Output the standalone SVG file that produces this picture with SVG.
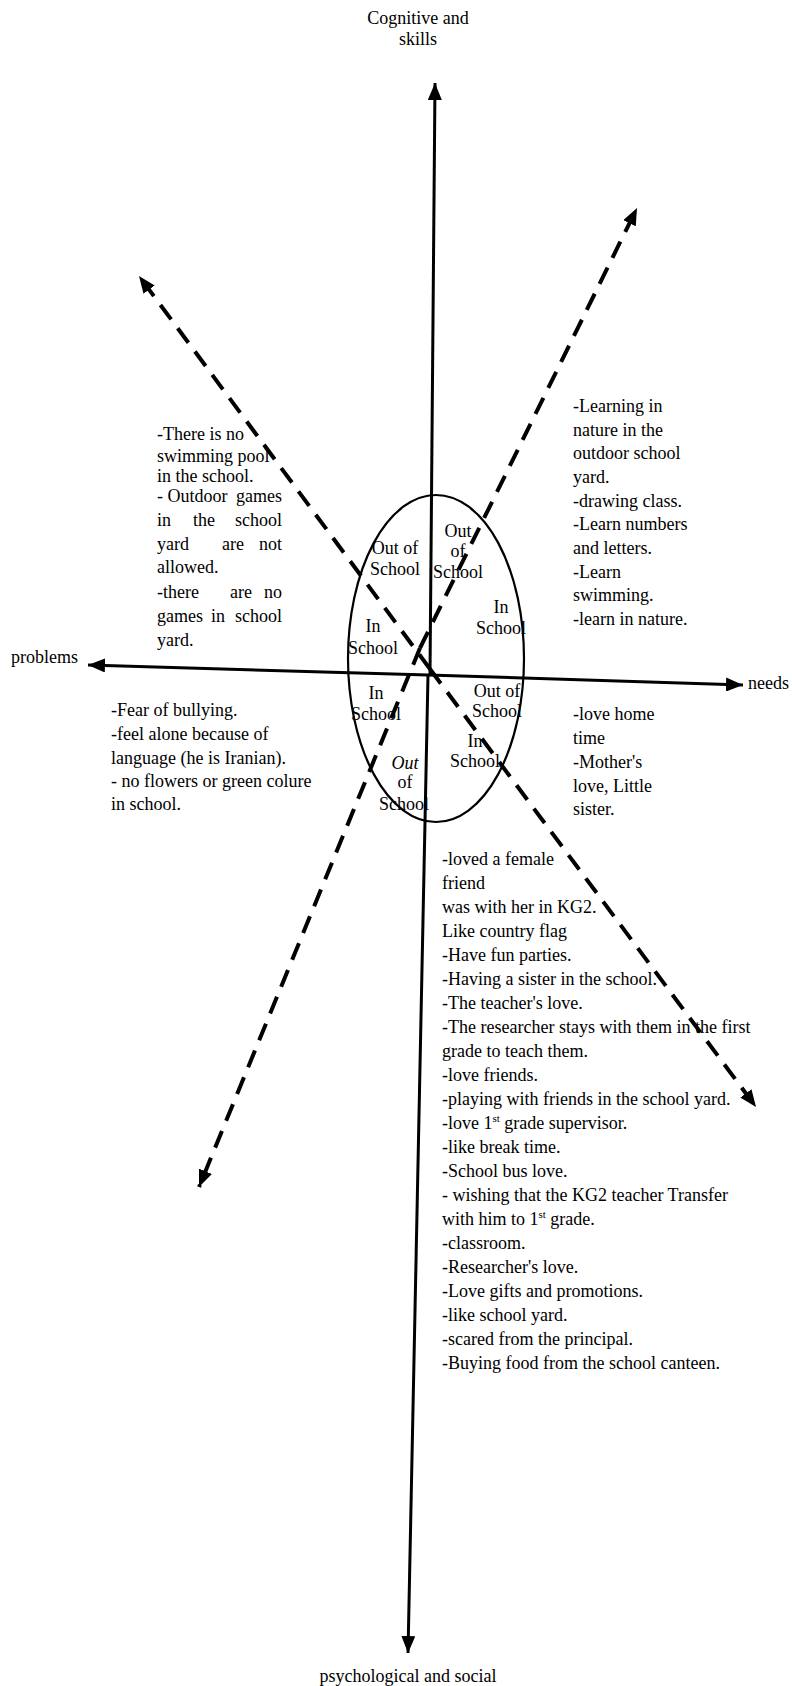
<svg xmlns="http://www.w3.org/2000/svg" width="792" height="1686" viewBox="0 0 792 1686">
<style>
text{font-family:"Liberation Serif","Times New Roman",serif;font-size:18px;fill:#000}
.c{text-anchor:middle}
.e{text-anchor:end}
.axis{stroke:#000;stroke-width:3;fill:none}
.dash{stroke:#000;stroke-width:4;fill:none;stroke-dasharray:18 11}
.sup{font-size:11px}
</style>
<defs>
<marker id="ah" markerUnits="userSpaceOnUse" markerWidth="18" markerHeight="14" refX="17" refY="7" orient="auto">
<path d="M0,0 L17,7 L0,14 Z" fill="#000"/>
</marker>
</defs>
<rect width="792" height="1686" fill="#fff"/>
<g id="connectors">
<line class="axis" x1="430" y1="675" x2="435" y2="83" marker-end="url(#ah)"/>
<line class="axis" x1="428" y1="675" x2="408" y2="1653" marker-end="url(#ah)"/>
<line class="axis" x1="428" y1="675" x2="88" y2="665" marker-end="url(#ah)"/>
<line class="axis" x1="428" y1="675" x2="743" y2="685" marker-end="url(#ah)"/>
<line class="dash" x1="420" y1="648" x2="637" y2="208" marker-end="url(#ah)"/>
<line class="dash" x1="420" y1="648" x2="199" y2="1187" marker-end="url(#ah)"/>
<line class="dash" x1="430" y1="669" x2="139" y2="276" marker-end="url(#ah)"/>
<line class="dash" x1="430" y1="669" x2="756" y2="1107" marker-end="url(#ah)"/>
</g>
<g id="ellipse">
<ellipse cx="436" cy="658.5" rx="88" ry="163.5" fill="none" stroke="#000" stroke-width="2.2"/>
<text class="c" x="395" y="554">Out of</text><text class="c" x="395" y="575">School</text>
<text class="c" x="458" y="537">Out</text><text class="c" x="458" y="557">of</text><text class="c" x="458" y="578">School</text>
<text class="c" x="501" y="613">In</text><text class="c" x="501" y="634">School</text>
<text class="c" x="373" y="632">In</text><text class="c" x="373" y="654">School</text>
<text class="c" x="376" y="699">In</text><text class="c" x="376" y="720">School</text>
<text class="c" x="497" y="697">Out of</text><text class="c" x="497" y="717">School</text>
<text class="c" x="475" y="747">In</text><text class="c" x="475" y="767">School</text>
<text class="c" x="405" y="769" font-style="italic" fill="#444">Out</text><text class="c" x="405" y="788">of</text><text class="c" x="404" y="810">School</text>
</g>
<g id="label-cognitive">
<text class="c" x="418" y="24">Cognitive and</text>
<text class="c" x="418" y="45">skills</text>
</g>
<g id="label-psych">
<text class="c" x="408" y="1682">psychological and social</text>
</g>
<g id="label-problems"><text x="11" y="663">problems</text></g>
<g id="label-needs"><text x="748" y="689">needs</text></g>
<g id="cognitive-needs-text">
<text x="573" y="412">-Learning in</text>
<text x="573" y="436">nature in the</text>
<text x="573" y="459">outdoor school</text>
<text x="573" y="483">yard.</text>
<text x="573" y="507">-drawing class.</text>
<text x="573" y="530">-Learn numbers</text>
<text x="573" y="554">and letters.</text>
<text x="573" y="578">-Learn</text>
<text x="573" y="601">swimming.</text>
<text x="573" y="625">-learn in nature.</text>
</g>
<g id="cognitive-problems-text">
<text x="157" y="440">-There is no</text>
<text x="157" y="462">swimming pool</text>
<text x="157" y="482">in the school.</text>
<text x="157" y="502">- Outdoor</text><text class="e" x="282" y="502">games</text>
<text x="157" y="526">in</text><text x="193" y="526">the</text><text class="e" x="282" y="526">school</text>
<text x="157" y="550">yard</text><text x="222" y="550">are</text><text class="e" x="282" y="550">not</text>
<text x="157" y="573">allowed.</text>
<text x="157" y="598">-there</text><text x="230" y="598">are</text><text class="e" x="282" y="598">no</text>
<text x="157" y="622">games</text><text x="211" y="622">in</text><text class="e" x="282" y="622">school</text>
<text x="157" y="646">yard.</text>
</g>
<g id="psych-problems-text">
<text x="111" y="716">-Fear of bullying.</text>
<text x="111" y="740">-feel alone because of</text>
<text x="111" y="764">language (he is Iranian).</text>
<text x="111" y="787">- no flowers or green colure</text>
<text x="111" y="810">in school.</text>
</g>
<g id="psych-needs-text">
<text x="573" y="720">-love home</text>
<text x="573" y="744">time</text>
<text x="573" y="768">-Mother's</text>
<text x="573" y="792">love, Little</text>
<text x="573" y="815">sister.</text>
</g>
<g id="psych-text">
<text x="442" y="865">-loved a female</text>
<text x="442" y="889">friend</text>
<text x="442" y="913">was with her in KG2.</text>
<text x="442" y="937">Like country flag</text>
<text x="442" y="961">-Have fun parties.</text>
<text x="442" y="985">-Having a sister in the school.</text>
<text x="442" y="1009">-The teacher's love.</text>
<text x="442" y="1033">-The researcher stays with them in the first</text>
<text x="442" y="1057">grade to teach them.</text>
<text x="442" y="1081">-love friends.</text>
<text x="442" y="1105">-playing with friends in the school yard.</text>
<text x="442" y="1129">-love 1<tspan class="sup" dy="-7">st</tspan><tspan dy="7"> grade supervisor.</tspan></text>
<text x="442" y="1153">-like break time.</text>
<text x="442" y="1177">-School bus love.</text>
<text x="442" y="1201">- wishing that the KG2 teacher Transfer</text>
<text x="442" y="1225">with him to 1<tspan class="sup" dy="-7">st</tspan><tspan dy="7"> grade.</tspan></text>
<text x="442" y="1249">-classroom.</text>
<text x="442" y="1273">-Researcher's love.</text>
<text x="442" y="1297">-Love gifts and promotions.</text>
<text x="442" y="1321">-like school yard.</text>
<text x="442" y="1345">-scared from the principal.</text>
<text x="442" y="1369">-Buying food from the school canteen.</text>
</g>
</svg>
